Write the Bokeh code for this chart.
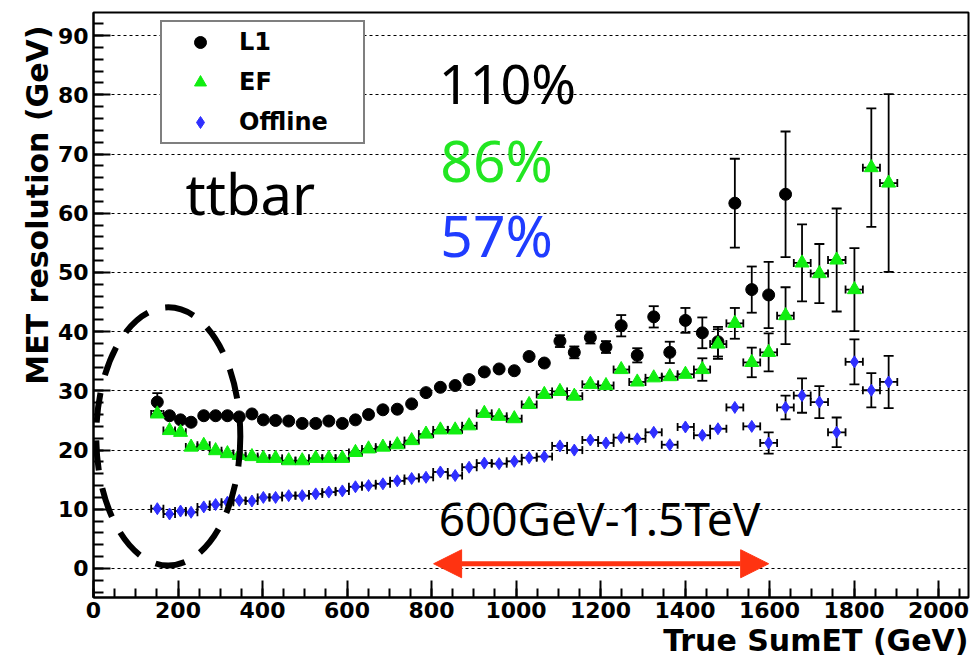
import numpy as np
from bokeh.plotting import figure
from bokeh.models import (ColumnDataSource, Whisker, TeeHead, Label, Arrow, NormalHead,
                          SingleIntervalTicker, Range1d, Legend, LegendItem, Title)
from bokeh.embed import file_html
from bokeh.resources import INLINE

# ---------------- data ----------------
sum_et = [151, 180, 206, 231, 261, 289, 317, 345, 375, 402, 431, 462, 494, 526, 557, 589,
          620, 651, 685, 719, 753, 787, 821, 856, 889, 925, 960, 996, 1031, 1067, 1104,
          1138, 1176, 1213, 1249, 1287, 1326, 1364, 1401, 1441, 1478, 1518, 1558, 1598,
          1638, 1677, 1718, 1759, 1801, 1841, 1882]

# L1 exists for the first 45 bins
l1_res = [28.1, 25.8, 25.1, 24.7, 25.8, 25.8, 25.8, 25.6, 26.1, 25.1, 25.0, 24.9, 24.5, 24.5,
          24.9, 24.5, 25.1, 26.0, 26.8, 26.9, 27.8, 29.7, 30.6, 30.9, 31.9, 33.2, 33.7, 33.4,
          35.8, 34.7, 38.4, 36.5, 39.0, 37.4, 41.0, 36.0, 42.5, 36.5, 41.9, 39.8, 38.3, 61.7,
          47.1, 46.2, 63.2]
l1_err = [1.5, 0.4, 0.4, 0.4, 0.4, 0.4, 0.4, 0.4, 0.4, 0.4, 0.4, 0.4, 0.4, 0.4, 0.4, 0.4,
          0.5, 0.5, 0.5, 0.5, 0.5, 0.6, 0.6, 0.6, 0.6, 0.7, 0.7, 0.7, 0.8, 0.8, 1.0, 1.0, 1.0,
          1.0, 1.8, 1.2, 1.8, 1.8, 2.1, 2.6, 2.5, 7.5, 3.9, 5.6, 10.6]

ef_res = [26.1, 23.3, 23.0, 20.5, 20.8, 19.9, 19.4, 19.1, 18.9, 18.6, 18.6, 18.2, 18.2, 18.6,
          18.6, 18.6, 19.6, 20.2, 20.5, 20.9, 21.6, 22.7, 23.4, 23.4, 24.1, 26.2, 25.7, 25.3,
          27.7, 29.4, 29.9, 29.1, 31.1, 30.9, 33.6, 31.5, 32.2, 32.4, 32.8, 33.6, 37.9, 41.4,
          34.8, 36.5, 42.7, 51.6, 49.8, 52.1, 47.1, 67.7, 65.1]
ef_err = [0.4, 0.4, 0.4, 0.4, 0.4, 0.4, 0.4, 0.4, 0.4, 0.4, 0.4, 0.4, 0.4, 0.4, 0.4, 0.4,
          0.4, 0.4, 0.4, 0.4, 0.4, 0.5, 0.5, 0.5, 0.5, 0.5, 0.5, 0.5, 0.6, 0.6, 0.6, 0.6, 0.6,
          0.6, 0.8, 0.8, 0.8, 0.8, 0.8, 1.9, 2.5, 2.6, 2.5, 3.2, 4.8, 6.5, 5.0, 8.7, 7.0,
          10.0, 15.0]

off_res = [10.1, 9.2, 9.7, 9.5, 10.4, 10.8, 11.2, 11.5, 11.4, 12.0, 12.0, 12.3, 12.3, 12.6,
           12.9, 13.1, 13.8, 14.0, 14.3, 14.8, 15.2, 15.4, 16.3, 15.7, 17.1, 17.8, 17.7, 18.1,
           18.7, 18.9, 20.7, 20.0, 21.7, 21.2, 22.1, 21.9, 23.0, 20.9, 23.9, 22.5, 23.6, 27.2,
           24.0, 21.2, 27.2, 29.2, 28.1, 23.0, 34.9, 30.1, 31.5]
off_err = [0.3, 0.3, 0.3, 0.3, 0.3, 0.3, 0.3, 0.3, 0.3, 0.3, 0.3, 0.3, 0.3, 0.3, 0.3, 0.3,
           0.3, 0.3, 0.3, 0.3, 0.3, 0.3, 0.3, 0.3, 0.3, 0.3, 0.3, 0.3, 0.4, 0.4, 0.5, 0.5,
           0.5, 0.5, 0.5, 0.5, 0.5, 0.5, 0.5, 0.5, 0.5, 0.6, 0.6, 1.8, 2.0, 2.9, 2.7, 2.5,
           3.8, 2.9, 4.4]

series_names = ["L1", "EF", "Offline"]
fractions = ["110%", "86%", "57%"]
sample_name = "ttbar"
range_text = "600GeV-1.5TeV"
x_title = "True SumET (GeV)"
y_title = "MET resolution (GeV)"

# ---------------- styling ----------------
C_L1, C_EF, C_OFF = "black", "#10ee10", "#2f2fff"
C_EF_TXT, C_OFF_TXT = "#22e622", "#1f3cff"
C_ARROW = "#ff3311"
TICK_FONT = "DejaVu Sans"
ANN_FONT = "Noto Sans"

p = figure(width=979, height=657, output_backend="svg", toolbar_location=None,
           x_range=Range1d(0, 2071), y_range=Range1d(-4.9, 93.9),
           min_border_left=93, min_border_right=11, min_border_top=12,
           min_border_bottom=60)
p.background_fill_color = "white"
p.border_fill_color = "white"
p.outline_line_color = "black"
p.outline_line_width = 2

p.xgrid.visible = False
p.ygrid.grid_line_color = "black"
p.ygrid.grid_line_width = 1
p.ygrid.grid_line_dash = "3 3"

p.xaxis.ticker = SingleIntervalTicker(interval=200, num_minor_ticks=4)
p.yaxis.ticker = SingleIntervalTicker(interval=10, num_minor_ticks=5)
for ax in (p.xaxis[0], p.yaxis[0]):
    ax.axis_line_width = 2
    ax.major_tick_line_width = 2
    ax.minor_tick_line_width = 2
    ax.major_tick_out = 0
    ax.minor_tick_out = 0
    ax.major_tick_in = 17
    ax.minor_tick_in = 10
    ax.major_label_text_font = TICK_FONT
    ax.major_label_text_font_style = "bold"
    ax.major_label_text_font_size = "22px"
    ax.major_label_text_color = "black"
    ax.major_label_standoff = 5
p.xaxis.minor_tick_in = 9
p.xaxis.major_label_standoff = 4

# axis titles as ROOT-style titles (right / top aligned)
p.add_layout(Title(text=x_title, align="right", text_font=TICK_FONT,
                   text_font_style="bold", text_font_size="30px", text_color="black",
                   standoff=0, offset=0), "below")
p.add_layout(Title(text=y_title, align="right", text_font=TICK_FONT,
                   text_font_style="bold", text_font_size="30px", text_color="black",
                   standoff=0, offset=13), "left")

xs = np.array(sum_et, dtype=float)
mid = (xs[1:] + xs[:-1]) / 2
x_lo = np.concatenate([[xs[0] - (mid[0] - xs[0])], mid])
x_hi = np.concatenate([mid, [xs[-1] + (xs[-1] - mid[-1])]])

def add_errors(xv, yv, ev, horiz):
    xv = np.asarray(xv, float); yv = np.asarray(yv, float); ev = np.asarray(ev, float)
    if horiz:
        n = len(xv)
        hs = ColumnDataSource(dict(y=yv, lo=x_lo[:n], hi=x_hi[:n]))
        p.add_layout(Whisker(source=hs, base="y", lower="lo", upper="hi",
                             dimension="width", line_color="black", line_width=1.8,
                             lower_head=TeeHead(size=8, line_width=1.8, line_color="black"),
                             upper_head=TeeHead(size=8, line_width=1.8, line_color="black")))
    m = ev >= 0.9
    vs = ColumnDataSource(dict(x=xv[m], lo=(yv - ev)[m], hi=(yv + ev)[m]))
    p.add_layout(Whisker(source=vs, base="x", lower="lo", upper="hi",
                         dimension="height", line_color="black", line_width=1.8,
                         lower_head=TeeHead(size=10, line_width=1.8, line_color="black"),
                         upper_head=TeeHead(size=10, line_width=1.8, line_color="black")))

add_errors(sum_et[:len(l1_res)], l1_res, l1_err, False)
add_errors(sum_et, ef_res, ef_err, True)
add_errors(sum_et, off_res, off_err, True)

r_l1 = p.scatter(sum_et[:len(l1_res)], l1_res, marker="circle", size=12,
                 fill_color=C_L1, line_color=C_L1)
r_ef = p.scatter(sum_et, ef_res, marker="triangle", size=14,
                 fill_color=C_EF, line_color=C_EF)
r_off = p.scatter(sum_et, off_res, marker="diamond", size=12,
                  fill_color=C_OFF, line_color=C_OFF)

# dashed ellipse highlighting the low-SumET region
p.ellipse(x=[177], y=[22.3], width=[341], height=[43.6], fill_color=None,
          line_color="black", line_width=6, line_dash="30 18")

# double arrow 600 GeV - 1.5 TeV
p.add_layout(Arrow(start=NormalHead(size=28, fill_color=C_ARROW, line_color=C_ARROW),
                   end=NormalHead(size=28, fill_color=C_ARROW, line_color=C_ARROW),
                   x_start=805, y_start=0.8, x_end=1598, y_end=0.8,
                   line_color=C_ARROW, line_width=5))

def lab(text, x, y, size, color="black"):
    p.add_layout(Label(x=x, y=y, text=text, text_font=ANN_FONT,
                       text_font_size=size, text_color=color,
                       text_align="left", text_baseline="alphabetic"))

lab(sample_name, 218, 63.5, "56px")
lab(fractions[0], 817, 82.0, "54px", "black")
lab(fractions[1], 821, 69.0, "57px", C_EF_TXT)
lab(fractions[2], 821, 56.4, "57px", C_OFF_TXT)
lab(range_text, 817, 8.5, "46px")

legend = Legend(items=[LegendItem(label=series_names[0], renderers=[r_l1]),
                       LegendItem(label=series_names[1], renderers=[r_ef]),
                       LegendItem(label=series_names[2], renderers=[r_off])],
                location=(67, 453))
legend.border_line_color = "black"
legend.border_line_width = 2
legend.background_fill_color = "white"
legend.background_fill_alpha = 1
legend.padding = 5
legend.margin = 0
legend.spacing = 10
legend.glyph_width = 66
legend.glyph_height = 30
legend.label_height = 30
legend.label_width = 119
legend.label_standoff = 6
legend.label_text_font = TICK_FONT
legend.label_text_font_style = "bold"
legend.label_text_font_size = "24px"
legend.label_text_color = "black"
p.add_layout(legend)

open("out.html", "w").write(file_html(p, INLINE))
